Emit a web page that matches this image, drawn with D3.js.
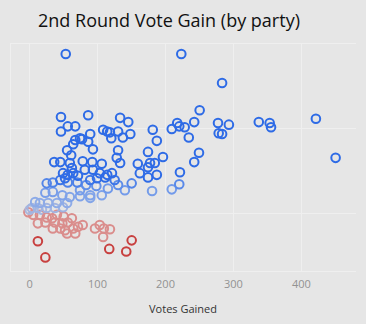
<!DOCTYPE html>
<html><head><meta charset="utf-8">
<script src="https://cdn.jsdelivr.net/npm/d3@7"></script>
<style>html,body{margin:0;padding:0;background:#e6e6e6;}svg{display:block;}</style>
</head><body>
<script>
const title = "2nd Round Vote Gain (by party)";
const xLabel = "Votes Gained";
const xTicks = [0, 100, 200, 300, 400];
const yGrid = [200, 100, 0];
const votesGained = [54,224,284,47,87,134,146,57,68,47,90,109,115,119,131,149,121,138,182,188,210,218,221,229,243,251,235,278,294,279,284,338,354,356,422,451,75,68,78,65,87,94,56,62,131,175,197,250,160,178,243,129,37,46,60,79,93,107,134,175,185,50,57,65,72,82,94,104,46,35,57,71,90,100,115,122,126,151,163,175,188,222,112,26,53,63,
181,210,221,131,116,107,90,75,24,35,49,60,75,90,9,16,28,41,56,4,13,26,38,50,19,1,99,84,141,
-1,6,16,26,34,13,24,38,49,57,63,35,46,53,65,72,79,68,56,97,104,110,119,109,41,51,
13,24,118,143,151];
const gainMargin = [187,187,153,113,115,112,107,102,102,96,93,98,96,95,96,93,88,89,98,85,99,106,102,101,107,121,89,106,104,94,93,107,106,101,111,65,88,86,87,81,84,75,74,68,74,72,66,71,58,59,60,65,60,60,59,61,60,58,59,54,59,47,45,47,44,51,51,47,39,36,36,36,39,41,45,47,39,35,47,42,45,48,42,35,41,53,
26,28,34,33,29,21,21,27,24,25,21,19,20,18,13,12,12,12,12,6,6,6,6,7,4,4,32,33,27,
1,-2,-2,-5,-6,-12,-11,-11,-12,-11,-6,-18,-18,-20,-18,-16,-14,-24,-24,-18,-14,-18,-19,-28,-2,-4,
-33,-52,-42,-45,-32];
const colorStops = [-31, -29, 2, 4, 12, 30, 42];
const colorRange = ["#c8403f", "#da8d8c", "#da8d8c", "#a9b7de", "#8eabe7", "#6e98ea", "#2e6be6"];

const W = 366, H = 324;
const svg = d3.select("body").append("svg").attr("width", W).attr("height", H);
svg.append("rect").attr("width", W).attr("height", H).attr("fill", "#e6e6e6");

const x = d3.scaleLinear().domain([-28, 481]).range([10, 356]);
const y = d3.scaleLinear().domain([-68, 200]).range([271, 43]);
const color = d3.scaleLinear().domain(colorStops).range(colorRange).clamp(true);

const grid = svg.append("g").attr("stroke", "#efefef").attr("stroke-width", 1);
yGrid.forEach(v => grid.append("line").attr("x1", 10).attr("x2", 356).attr("y1", Math.round(y(v)) + 0.5).attr("y2", Math.round(y(v)) + 0.5));
xTicks.forEach(v => grid.append("line").attr("y1", 43).attr("y2", 271).attr("x1", Math.round(x(v)) + 0.5).attr("x2", Math.round(x(v)) + 0.5));
grid.append("line").attr("x1", 10.5).attr("x2", 10.5).attr("y1", 43).attr("y2", 271);
grid.append("line").attr("x1", 10).attr("x2", 356).attr("y1", 271.5).attr("y2", 271.5);

const axis = d3.axisBottom(x).tickValues(xTicks).tickSize(0).tickPadding(8);
const ax = svg.append("g").attr("transform", "translate(0,272)").call(axis);
ax.select(".domain").remove();
ax.selectAll("text").attr("fill", "#929292").style("font-family", "Open Sans, sans-serif").style("font-size", "11px");

svg.append("text").attr("x", 183).attr("y", 313).attr("text-anchor", "middle")
  .style("font-family", "Open Sans, sans-serif").style("font-size", "11px").attr("fill", "#333").text(xLabel);

svg.append("text").attr("x", 38).attr("y", 27)
  .style("font-family", "Open Sans, sans-serif").style("font-size", "18px").attr("fill", "#111").text(title);

const pts = votesGained.map((v, i) => ({x: v, y: gainMargin[i]}));
pts.sort((a, b) => Math.abs(a.y) - Math.abs(b.y));
svg.append("g").selectAll("circle").data(pts).join("circle")
  .attr("cx", d => x(d.x)).attr("cy", d => y(d.y)).attr("r", 4.3)
  .attr("fill", "none").attr("stroke", d => color(d.y)).attr("stroke-width", 2);
</script>
</body></html>
